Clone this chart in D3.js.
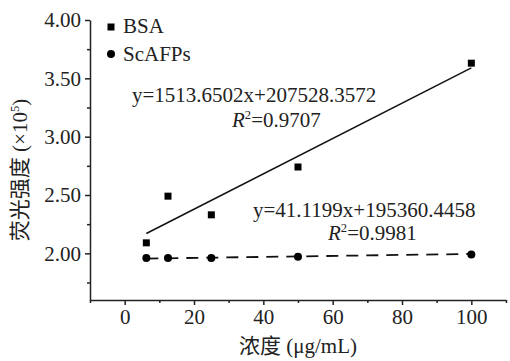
<!DOCTYPE html>
<html>
<head>
<meta charset="utf-8">
<script src="https://cdn.jsdelivr.net/npm/d3@7"></script>
<style>
  html, body { margin: 0; padding: 0; background: #fff; }
  svg { display: block; }
  text { font-family: "Liberation Serif", serif; fill: #222; }
  .cjk { font-family: "Noto Sans CJK SC", sans-serif; }
  .lat { font-family: "Liberation Serif", serif; }
</style>
</head>
<body>
<div id="chart"></div>
<script>
// concentrations (µg/mL) and intensities (×10^5)
const concentrations = [6.25, 12.5, 25, 50, 100];
const bsaValues = [2.09, 2.49, 2.33, 2.74, 3.63];
const scafpValues = [1.96, 1.96, 1.96, 1.97, 1.99];
// fitted lines, endpoints
const fitX = [6.25, 100];
const bsaFit = [2.17, 3.59];
const scafpFit = [1.955, 1.995];
const xTicks = [0, 20, 40, 60, 80, 100];
const xMinor = [-10, 10, 30, 50, 70, 90, 110];
const yTicks = [2.00, 2.50, 3.00, 3.50, 4.00];
const yMinor = [1.75, 2.25, 2.75, 3.25, 3.75];

const width = 510, height = 361;
const svg = d3.select('#chart').append('svg').attr('width', width).attr('height', height);

const x = d3.scaleLinear().domain([-10, 110]).range([90, 506]);
const y = d3.scaleLinear().domain([1.6, 4.0]).range([300, 20]);
const fs = 21;
const serif = '"Liberation Serif", serif';

// axes
const ax = svg.append('g').attr('transform', `translate(0,${y(1.6)})`);
ax.call(d3.axisBottom(x).tickValues(xTicks).tickFormat(d3.format('d')).tickSizeInner(5).tickSizeOuter(0).tickPadding(4));
ax.append('g').call(d3.axisBottom(x).tickValues(xMinor).tickFormat('').tickSizeInner(3).tickSizeOuter(0))
  .select('.domain').remove();

const ay = svg.append('g').attr('transform', `translate(${x(-10)},0)`);
ay.call(d3.axisLeft(y).tickValues(yTicks).tickFormat(d3.format('.2f')).tickSizeInner(5).tickSizeOuter(0).tickPadding(4));
ay.append('g').call(d3.axisLeft(y).tickValues(yMinor).tickFormat('').tickSizeInner(3).tickSizeOuter(0))
  .select('.domain').remove();

ax.attr('font-family', serif); ay.attr('font-family', serif);
svg.selectAll('.domain, .tick line').attr('stroke', '#222').attr('stroke-width', 1.5);
svg.selectAll('.tick text').attr('font-size', fs).attr('fill', '#222').style('font-family', serif);

// fitted lines
const line = d3.line().x(d => x(d[0])).y(d => y(d[1]));
svg.append('path').datum(d3.zip(fitX, bsaFit)).attr('d', line)
  .attr('fill', 'none').attr('stroke', '#111').attr('stroke-width', 1.5);
svg.append('path').datum(d3.zip(fitX, scafpFit)).attr('d', line)
  .attr('fill', 'none').attr('stroke', '#111').attr('stroke-width', 1.8).attr('stroke-dasharray', '12,8');

// points
const sq = 7;
svg.append('g').selectAll('rect').data(d3.zip(concentrations, bsaValues)).join('rect')
  .attr('x', d => x(d[0]) - sq / 2).attr('y', d => y(d[1]) - sq / 2)
  .attr('width', sq).attr('height', sq).attr('fill', '#000');
svg.append('g').selectAll('circle').data(d3.zip(concentrations, scafpValues)).join('circle')
  .attr('cx', d => x(d[0])).attr('cy', d => y(d[1])).attr('r', 4).attr('fill', '#000');

// legend
svg.append('rect').attr('x', 111 - sq / 2).attr('y', 27 - sq / 2).attr('width', sq).attr('height', sq).attr('fill', '#000');
svg.append('text').attr('x', 123).attr('y', 33).attr('font-size', fs).text('BSA');
svg.append('circle').attr('cx', 111).attr('cy', 54).attr('r', 4).attr('fill', '#000');
svg.append('text').attr('x', 123).attr('y', 61).attr('font-size', fs).text('ScAFPs');

// equations
function rsq(xp, yp, val) {
  const t = svg.append('text').attr('x', xp).attr('y', yp).attr('font-size', fs);
  t.append('tspan').attr('font-style', 'italic').text('R');
  t.append('tspan').attr('font-size', fs * 0.6).attr('dy', -8).text('2');
  t.append('tspan').attr('dy', 8).text('=' + val);
}
svg.append('text').attr('x', 132).attr('y', 102).attr('font-size', fs).text('y=1513.6502x+207528.3572');
rsq(232, 127, '0.9707');
svg.append('text').attr('x', 253).attr('y', 217).attr('font-size', fs).text('y=41.1199x+195360.4458');
rsq(328, 240, '0.9981');

// axis titles
const xt = svg.append('text').attr('x', 298).attr('y', 353).attr('text-anchor', 'middle').attr('font-size', fs);
xt.append('tspan').attr('class', 'cjk').text('浓度');
xt.append('tspan').attr('class', 'lat').text('\u00a0(μg/mL)');
const yt = svg.append('text').attr('transform', 'translate(27,170) rotate(-90)')
  .attr('text-anchor', 'middle').attr('font-size', fs);
yt.append('tspan').attr('class', 'cjk').text('荧光强度');
yt.append('tspan').attr('class', 'lat').text('\u00a0(×10');
yt.append('tspan').attr('class', 'lat').attr('font-size', fs * 0.6).attr('dy', -8).text('5');
yt.append('tspan').attr('class', 'lat').attr('dy', 8).text(')');
</script>
</body>
</html>
